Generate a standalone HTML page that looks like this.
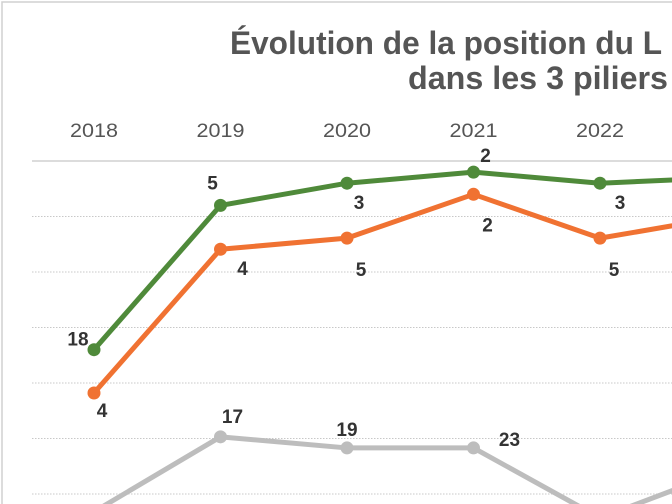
<!DOCTYPE html>
<html><head><meta charset="utf-8"><style>
html,body{margin:0;padding:0;background:#fff;}
svg{display:block;}
</style></head><body>
<svg id="chart" width="672" height="504" viewBox="0 0 672 504" xmlns="http://www.w3.org/2000/svg" font-family="'Liberation Sans', sans-serif">
<rect x="2" y="2" width="700" height="520" fill="#fff" stroke="#d0d0d0" stroke-width="1.5"/>
<text x="230" y="54" textLength="432" lengthAdjust="spacingAndGlyphs" font-size="32" font-weight="bold" fill="#555">Évolution de la position du L</text>
<text x="408" y="89" textLength="260" lengthAdjust="spacingAndGlyphs" font-size="32" font-weight="bold" fill="#555">dans les 3 piliers</text>
<g id="grid"></g><g id="xaxis"></g><g id="series"></g><g id="labels"></g>
</svg>
<script>
const years=["2018","2019","2020","2021","2022","2023"];
const greenVals=[66,92,96,98,96,97];
const orangeVals=[58.2,84.1,86.1,94,86.1,90];
const grayVals=[36.8,50.3,48.3,48.3,35.7,44.3];
const greenLabels=["18","5","3","2","3",""];
const orangeLabels=["4","4","5","2","5",""];
const grayLabels=["","17","19","23","",""];
const gridVals=[100,90,80,70,60,50,40];

const NS="http://www.w3.org/2000/svg";
const x=i=>94+i*126.5;
const y=v=>161+(100-v)*5.55;
function mk(tag,attrs,parent){const e=document.createElementNS(NS,tag);for(const k in attrs)e.setAttribute(k,attrs[k]);parent.appendChild(e);return e;}
const grid=document.getElementById('grid'),xa=document.getElementById('xaxis'),ser=document.getElementById('series'),lab=document.getElementById('labels');
gridVals.forEach((g,i)=>{
  const l=mk('line',{x1:32,x2:672,y1:y(g),y2:y(g),stroke:i===0?'#d0d0d0':'#c8c8c8','stroke-width':i===0?1.5:1,'stroke-dasharray':i===0?'none':'1.5 1.5'},grid);
  
  
});
years.forEach((yr,i)=>{
  const t=mk('text',{x:x(i)-24,y:137,textLength:48,lengthAdjust:'spacingAndGlyphs','font-size':19,fill:'#555'},xa);
  t.textContent=yr;
  
  
});
const seriesDefs=[
  {vals:grayVals,labels:grayLabels,color:'#bdbdbd',name:'gray',off:[[0,0],[12,-14],[0,-12],[36,-2],[0,0],[0,0]]},
  {vals:orangeVals,labels:orangeLabels,color:'#f07232',name:'orange',off:[[8,24],[22,26],[14,38],[14,37],[14,38],[0,0]]},
  {vals:greenVals,labels:greenLabels,color:'#4f8a3a',name:'green',off:[[-16,-4],[-8,-16],[12,26],[12,-10],[20,26],[0,0]]}
];
seriesDefs.forEach(s=>{
  const pts=s.vals.map((v,i)=>x(i)+','+y(v)).join(' ');
  const pl=mk('polyline',{points:pts,fill:'none',stroke:s.color,'stroke-width':5,'stroke-linejoin':'round'},ser);
  
  
  s.vals.forEach((v,i)=>{
    const c=mk('circle',{cx:x(i),cy:y(v),r:6.5,fill:s.color},ser);
    
    
    if(s.labels[i]){
      const t=mk('text',{x:x(i)+s.off[i][0],y:y(v)+s.off[i][1],'text-anchor':'middle','font-size':19,'font-weight':'bold',fill:'#333'},lab);
      t.textContent=s.labels[i];
      
      
    }
  });
});
</script>
</body></html>
